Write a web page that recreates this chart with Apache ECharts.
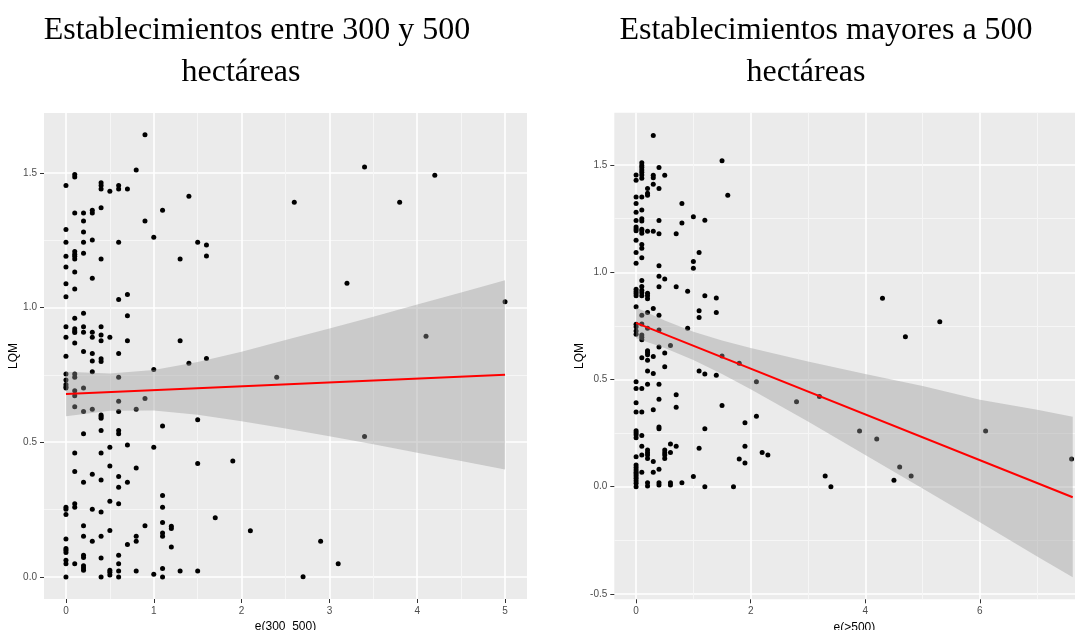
<!DOCTYPE html>
<html>
<head>
<meta charset="utf-8">
<script src="https://cdn.jsdelivr.net/npm/echarts@6/dist/echarts.min.js"></script>
<style>
html,body{margin:0;padding:0;background:#fff;}
#chartWrap{width:1075px;height:630px;}
</style>
</head>
<body>
<div id="chartWrap"></div>
<script>
// ---- Establecimientos entre 300 y 500 ha : columnas de x y sus valores LQM ----
var x300 = [0, 0.1, 0.2, 0.3, 0.4, 0.5, 0.6, 0.7, 0.8, 0.9, 1.0, 1.1, 1.2, 1.3, 1.4, 1.5, 1.6,
            1.7, 1.9, 2.1, 2.4, 2.6, 2.7, 2.9, 3.1, 3.2, 3.4, 3.8, 4.1, 4.2, 5.0];
var y300 = [
	[1.453, 1.290, 1.242, 1.190, 1.150, 1.088, 1.040, 0.929, 0.890, 0.819, 0.753, 0.731, 0.714, 0.706, 0.701, 0.259, 0.251, 0.232, 0.141, 0.105, 0.099, 0.091, 0.062, 0.049, 0.0],
	[1.494, 1.484, 1.351, 1.208, 1.198, 1.190, 1.180, 1.132, 1.069, 0.960, 0.921, 0.913, 0.907, 0.868, 0.753, 0.741, 0.691, 0.672, 0.632, 0.460, 0.391, 0.272, 0.259, 0.049],
	[1.351, 1.321, 1.280, 1.242, 1.201, 0.979, 0.929, 0.908, 0.837, 0.701, 0.614, 0.531, 0.351, 0.190, 0.151, 0.080, 0.072, 0.041, 0.033, 0.025],
	[1.361, 1.351, 1.251, 1.109, 0.908, 0.890, 0.829, 0.801, 0.762, 0.622, 0.381, 0.251, 0.132],
	[1.463, 1.453, 1.440, 1.370, 1.180, 0.929, 0.898, 0.877, 0.810, 0.800, 0.601, 0.595, 0.589, 0.543, 0.460, 0.360, 0.241, 0.151, 0.070, 0.0],
	[1.432, 0.890, 0.481, 0.412, 0.281, 0.172, 0.025, 0.017, 0.007],
	[1.453, 1.440, 1.242, 1.030, 0.829, 0.741, 0.652, 0.614, 0.543, 0.531, 0.373, 0.333, 0.272, 0.080, 0.049, 0.022, 0.0],
	[1.440, 1.048, 0.969, 0.877, 0.490, 0.351, 0.120],
	[1.510, 0.622, 0.404, 0.151, 0.132, 0.022],
	[1.641, 1.321, 0.662, 0.190],
	[1.261, 0.770, 0.481, 0.010],
	[1.361, 0.560, 0.302, 0.259, 0.202, 0.163, 0.151, 0.031, 0.0],
	[0.188, 0.180, 0.111],
	[1.180, 0.877, 0.022],
	[1.413, 0.793],
	[1.242, 0.583, 0.421, 0.022],
	[1.232, 1.191, 0.811],
	[0.220], [0.430], [0.171], [0.741], [1.391], [0.001], [0.132], [0.049], [1.090],
	[1.522, 0.521], [1.391], [0.893], [1.491], [1.021]
];
// recta de ajuste y banda de confianza
var fitX300 = [0, 5];
var fitY300 = [0.679, 0.750];
var bandX300  = [0, 0.5, 1, 1.5, 2, 2.5, 3, 3.5, 4, 4.5, 5];
var bandLo300 = [0.596, 0.617, 0.618, 0.602, 0.578, 0.551, 0.522, 0.492, 0.461, 0.430, 0.399];
var bandHi300 = [0.762, 0.755, 0.768, 0.798, 0.836, 0.879, 0.922, 0.966, 1.011, 1.056, 1.101];

// ---- Establecimientos mayores a 500 ha ----
var x500 = [0, 0.1, 0.2, 0.3, 0.4, 0.5, 0.6, 0.7, 0.8, 0.9, 1.0, 1.1, 1.2, 1.4, 1.5, 1.6, 1.7, 1.8,
            1.9, 2.1, 2.2, 2.3, 2.8, 3.2, 3.3, 3.4, 3.9, 4.2, 4.3, 4.5, 4.6, 4.7, 4.8, 5.3, 6.1, 7.6];
var y500 = [
	[1.453, 1.429, 1.351, 1.321, 1.280, 1.241, 1.211, 1.202, 1.193, 1.149, 1.092, 1.042, 0.921, 0.910, 0.901, 0.890, 0.839, 0.758, 0.746, 0.726, 0.711, 0.489, 0.458, 0.391, 0.348, 0.261, 0.252, 0.242, 0.228, 0.140, 0.101, 0.090, 0.078, 0.068, 0.059, 0.050, 0.039, 0.028, 0.016, 0.0],
	[1.511, 1.498, 1.488, 1.477, 1.466, 1.453, 1.438, 1.351, 1.290, 1.249, 1.239, 1.200, 1.193, 1.182, 1.130, 1.112, 1.068, 0.961, 0.933, 0.916, 0.904, 0.890, 0.800, 0.759, 0.708, 0.697, 0.685, 0.601, 0.458, 0.348, 0.239, 0.189, 0.148, 0.068],
	[1.390, 1.368, 1.359, 1.191, 0.902, 0.890, 0.876, 0.812, 0.739, 0.634, 0.626, 0.615, 0.590, 0.539, 0.478, 0.171, 0.158, 0.148, 0.132, 0.019, 0.003],
	[1.638, 1.452, 1.441, 1.410, 1.191, 0.831, 0.607, 0.528, 0.359, 0.118, 0.068],
	[1.489, 1.390, 1.241, 1.180, 1.030, 0.981, 0.932, 0.800, 0.731, 0.651, 0.478, 0.408, 0.278, 0.270, 0.081, 0.019, 0.008],
	[1.452, 0.969, 0.623, 0.559, 0.171, 0.158, 0.148, 0.132],
	[0.658, 0.199, 0.160, 0.019, 0.008],
	[1.180, 0.932, 0.429, 0.370, 0.189],
	[1.321, 1.230, 0.019],
	[0.911, 0.739],
	[1.259, 1.050, 1.019, 0.048],
	[1.092, 0.820, 0.789, 0.539, 0.179],
	[1.242, 0.890, 0.526, 0.270, 0.0],
	[0.880, 0.812, 0.520],
	[1.520, 0.610, 0.379],
	[1.359], [0.0], [0.576, 0.129], [0.298, 0.189, 0.110], [0.489, 0.329], [0.160], [0.148],
	[0.396], [0.421], [0.050], [0.0], [0.260], [0.222], [0.879], [0.030], [0.092], [0.699],
	[0.050], [0.769], [0.260], [0.129]
];
var fitX500 = [0, 7.62];
var fitY500 = [0.764, -0.049];
var bandX500  = [0, 0.5, 1, 1.5, 2, 3, 4, 5, 6, 7, 7.62];
var bandLo500 = [0.692, 0.647, 0.591, 0.526, 0.455, 0.304, 0.148, -0.008, -0.166, -0.325, -0.422];
var bandHi500 = [0.836, 0.775, 0.723, 0.682, 0.647, 0.584, 0.526, 0.470, 0.405, 0.359, 0.326];

// marcas de los ejes
var xTicks300 = [0, 1, 2, 3, 4, 5];
var xMinor300 = [0.5, 1.5, 2.5, 3.5, 4.5];
var yTicks300 = [0, 0.5, 1.0, 1.5];
var yMinor300 = [0.25, 0.75, 1.25];
var xTicks500 = [0, 2, 4, 6];
var xMinor500 = [1, 3, 5, 7];
var yTicks500 = [-0.5, 0, 0.5, 1.0, 1.5];
var yMinor500 = [-0.25, 0.25, 0.75, 1.25];

function toPairs(xs, ys){
	var out = [];
	for(var i = 0; i < xs.length; i++){
		for(var j = 0; j < ys[i].length; j++){
			out.push([xs[i], ys[i][j]]);
		}
	}
	return out;
}
function zipXY(xs, ys){
	var out = [];
	for(var i = 0; i < xs.length; i++){ out.push([xs[i], ys[i]]); }
	return out;
}
// banda gris: un poligono que pasa por los puntos superiores y vuelve por los inferiores
function bandRender(bx, lo, hi){
	return function(params, api){
		if(params.dataIndex !== 0) return;
		var pts = [];
		for(var i = 0; i < bx.length; i++) pts.push(api.coord([bx[i], hi[i]]));
		for(var i = bx.length - 1; i >= 0; i--) pts.push(api.coord([bx[i], lo[i]]));
		return { type: 'polygon', shape: { points: pts }, style: { fill: 'rgba(153,153,153,0.4)' } };
	};
}

var tickFont = { color: '#4D4D4D', fontSize: 10, fontFamily: 'Liberation Sans' };
var nameFont = { color: '#000', fontSize: 12, fontFamily: 'Liberation Sans' };
var titleFont = { color: '#000', fontSize: 32, fontWeight: 'normal', fontFamily: 'Liberation Serif' };

function majorAxis(grid, min, max, ticks, name, gap, isY){
	return {
		type: 'value', gridIndex: grid, min: min, max: max,
		position: isY ? 'left' : 'bottom',
		name: name, nameLocation: 'middle', nameGap: gap, nameTextStyle: nameFont,
		axisLine: { show: false, onZero: false },
		axisTick: { show: true, length: 4, customValues: ticks, lineStyle: { color: '#333', width: 1 } },
		axisLabel: {
			customValues: ticks, margin: 7, color: tickFont.color, fontSize: tickFont.fontSize, fontFamily: tickFont.fontFamily,
			formatter: function(v){ return isY ? v.toFixed(1) : String(v); }
		},
		splitLine: { show: true, lineStyle: { color: '#FFFFFF', width: 1.6 } }
	};
}
function minorAxis(grid, min, max, ticks, isY){
	return {
		type: 'value', gridIndex: grid, min: min, max: max,
		position: isY ? 'right' : 'top',
		axisLine: { show: false, onZero: false },
		axisTick: { show: false, customValues: ticks },
		axisLabel: { show: false, customValues: ticks },
		splitLine: { show: true, lineStyle: { color: '#F6F6F6', width: 1 } }
	};
}

var dom = document.getElementById('chartWrap');
var myChart = echarts.init(dom);
var option = {
	animation: false,
	backgroundColor: '#FFFFFF',
	title: [
		{ text: 'Establecimientos entre 300 y 500', left: 252, top: 10, textAlign: 'center', textStyle: titleFont },
		{ text: 'hectáreas', left: 236, top: 52, textAlign: 'center', textStyle: titleFont },
		{ text: 'Establecimientos mayores a 500', left: 821, top: 10, textAlign: 'center', textStyle: titleFont },
		{ text: 'hectáreas', left: 801, top: 52, textAlign: 'center', textStyle: titleFont }
	],
	grid: [
		{ left: 44, top: 113, width: 483, height: 486, show: true, backgroundColor: '#EBEBEB', borderWidth: 0, outerBoundsMode: 'none' },
		{ left: 614.3, top: 112.7, width: 480.2, height: 486.6, show: true, backgroundColor: '#EBEBEB', borderWidth: 0, outerBoundsMode: 'none' }
	],
	xAxis: [
		majorAxis(0, -0.25, 5.25, xTicks300, 'e(300  500)', 20, false),
		minorAxis(0, -0.25, 5.25, xMinor300, false),
		majorAxis(1, -0.38, 8.0, xTicks500, 'e(>500)', 20, false),
		minorAxis(1, -0.38, 8.0, xMinor500, false)
	],
	yAxis: [
		majorAxis(0, -0.082, 1.722, yTicks300, 'LQM', 22, true),
		minorAxis(0, -0.082, 1.722, yMinor300, true),
		majorAxis(1, -0.525, 1.744, yTicks500, 'LQM', 27, true),
		minorAxis(1, -0.525, 1.744, yMinor500, true)
	],
	series: [
		{ type: 'scatter', xAxisIndex: 0, yAxisIndex: 0, z: 2, symbolSize: 5, itemStyle: { color: '#000', opacity: 1 }, data: toPairs(x300, y300) },
		{ type: 'custom', xAxisIndex: 0, yAxisIndex: 0, z: 3, renderItem: bandRender(bandX300, bandLo300, bandHi300),
		  data: zipXY(bandX300, bandLo300) },
		{ type: 'line', xAxisIndex: 0, yAxisIndex: 0, z: 4, showSymbol: false, lineStyle: { color: '#FF0000', width: 2 },
		  data: zipXY(fitX300, fitY300) },
		{ type: 'scatter', xAxisIndex: 2, yAxisIndex: 2, z: 2, symbolSize: 5, itemStyle: { color: '#000', opacity: 1 }, data: toPairs(x500, y500) },
		{ type: 'custom', xAxisIndex: 2, yAxisIndex: 2, z: 3, renderItem: bandRender(bandX500, bandLo500, bandHi500),
		  data: zipXY(bandX500, bandLo500) },
		{ type: 'line', xAxisIndex: 2, yAxisIndex: 2, z: 4, showSymbol: false, lineStyle: { color: '#FF0000', width: 2 },
		  data: zipXY(fitX500, fitY500) }
	]
};
if (option && typeof option === "object") {
	myChart.setOption(option, true);
}
</script>
</body>
</html>
